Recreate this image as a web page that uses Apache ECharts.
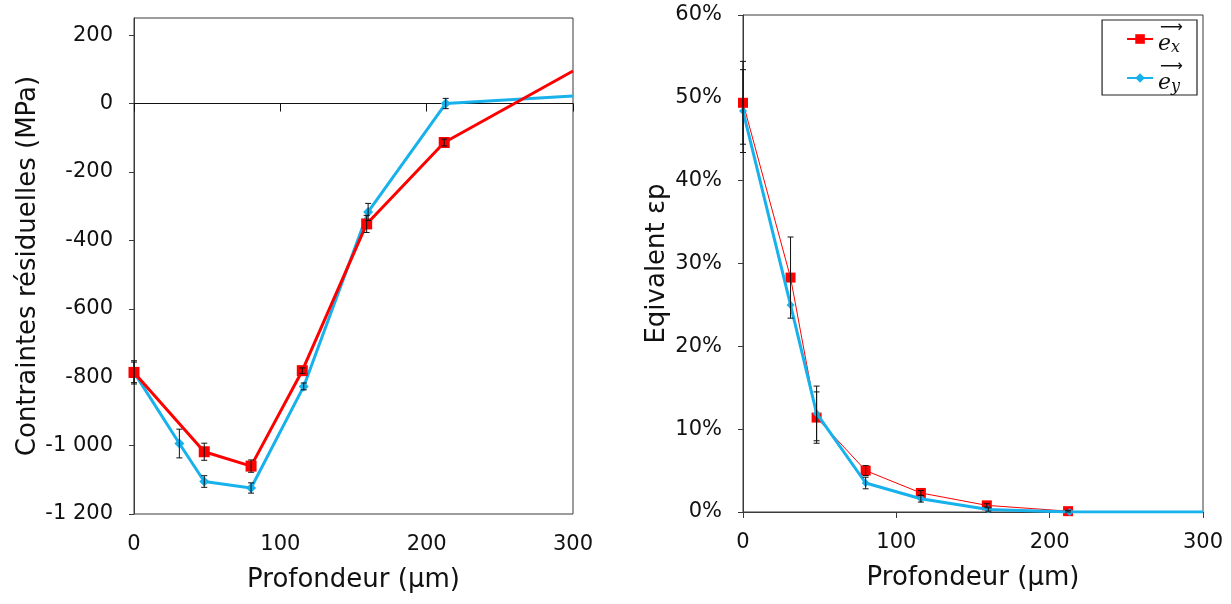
<!DOCTYPE html>
<html><head><meta charset="utf-8">
<script src="https://cdn.jsdelivr.net/npm/echarts/dist/echarts.min.js"></script>
<style>html,body{margin:0;padding:0;background:#fff}#c{width:1231px;height:604px}</style>
</head><body><div id="c"></div>
<script>
// ---- Left chart: residual stress (MPa) vs depth (µm)
const stressDepthRed = [0, 48, 80, 115, 159, 212, 300];
const stressRed      = [-786, -1018, -1060, -781, -352, -114, 95];
const stressErrRed   = [34, 25, 18, 8, 25, 10, null];
const stressDepthBlue = [0, 31, 48, 80, 116, 160, 213, 300];
const stressBlue      = [-786, -994, -1105, -1124, -827, -317, 0, 22];
const stressErrBlue   = [30, 42, 17, 15, 10, 25, 15, null];

// ---- Right chart: equivalent plastic strain (%) vs depth (µm)
const strainDepthRed = [0, 31, 48, 80, 116, 159, 212];
const strainRed      = [49.4, 28.3, 11.4, 5.0, 2.3, 0.8, 0.1];
const strainErrRed   = [5, 4.9, 3.1, 0.6, 0.3, 0.2, 0.1];
const strainDepthBlue = [0, 31, 48, 80, 116, 160, 213, 300];
const strainBlue      = [48.4, 25.0, 11.9, 3.5, 1.6, 0.3, 0, 0];
const strainErrBlue   = [5, 0, 3.3, 0.7, 0.4, 0.2, 0, null];

const seriesNames = ['ex', 'ey'];
const RED = '#ff0000', BLUE = '#17b1ec', AX = '#3a3a3a', TXT = '#111';
const FONT = 'DejaVu Sans';
const X_END = 300;

// points at the plot's right edge are line ends only (no marker)
const pts = (xs, ys) => xs.map((x, i) => (x >= X_END ? { value: [x, ys[i]], symbol: 'none' } : [x, ys[i]]));
const errPts = (xs, ys, es) => xs.map((x, i) => [x, ys[i], es[i]]).filter(d => d[2] != null && d[2] > 0);

function errRender(params, api) {
  const x = api.value(0), y = api.value(1), e = api.value(2);
  const hi = api.coord([x, y + e]), lo = api.coord([x, y - e]);
  const w = 3, st = { stroke: '#111', lineWidth: 1 };
  return { type: 'group', children: [
    { type: 'line', shape: { x1: hi[0], y1: hi[1], x2: lo[0], y2: lo[1] }, style: st },
    { type: 'line', shape: { x1: hi[0] - w, y1: hi[1], x2: hi[0] + w, y2: hi[1] }, style: st },
    { type: 'line', shape: { x1: lo[0] - w, y1: lo[1], x2: lo[0] + w, y2: lo[1] }, style: st }
  ]};
}

const tickLabel = { color: TXT, fontFamily: FONT, fontSize: 21 };
const nameStyle = { color: TXT, fontFamily: FONT, fontSize: 26 };

const chart = echarts.init(document.getElementById('c'), null, { renderer: 'canvas' });
chart.setOption({
  animation: false,
  backgroundColor: '#fff',
  grid: [
    { left: 134, top: 18, right: 658, bottom: 90, show: true, borderColor: AX, borderWidth: 1, backgroundColor: 'transparent' },
    { left: 743, top: 15, right: 28, bottom: 92, show: true, borderColor: AX, borderWidth: 1, backgroundColor: 'transparent' }
  ],
  xAxis: [
    { gridIndex: 0, type: 'value', min: 0, max: 300, interval: 100, position: 'bottom',
      axisLine: { show: false, onZero: false }, axisTick: { show: false }, splitLine: { show: false },
      axisLabel: Object.assign({ margin: 20 }, tickLabel),
      name: 'Profondeur (µm)', nameLocation: 'middle', nameGap: 53, nameTextStyle: nameStyle },
    { gridIndex: 0, type: 'value', min: 0, max: 300, interval: 100, position: 'bottom',
      axisLine: { show: true, onZero: true, lineStyle: { color: '#111', width: 1 } },
      axisTick: { show: true, length: 8, lineStyle: { color: '#111' } },
      axisLabel: { show: false }, splitLine: { show: false } },
    { gridIndex: 1, type: 'value', min: 0, max: 300, interval: 100, position: 'bottom',
      axisLine: { show: true, lineStyle: { color: AX, width: 1 } },
      axisTick: { show: true, length: 6, lineStyle: { color: AX } },
      axisLabel: Object.assign({ margin: 20 }, tickLabel), splitLine: { show: false },
      name: 'Profondeur (µm)', nameLocation: 'middle', nameGap: 53, nameTextStyle: nameStyle }
  ],
  yAxis: [
    { gridIndex: 0, type: 'value', min: -1200, max: 250, interval: 200,
      axisLine: { show: true, lineStyle: { color: AX } },
      axisTick: { show: true, length: 5, lineStyle: { color: AX } }, splitLine: { show: false },
      axisLabel: Object.assign({ margin: 21, showMaxLabel: false,
        formatter: v => { const s = String(Math.abs(v)); const t = s.length > 3 ? s.slice(0, s.length - 3) + ' ' + s.slice(-3) : s; return (v < 0 ? '-' : '') + t; } }, tickLabel),
      name: 'Contraintes résiduelles (MPa)', nameLocation: 'middle', nameGap: 90, nameTextStyle: nameStyle },
    { gridIndex: 1, type: 'value', min: 0, max: 60, interval: 10,
      axisLine: { show: true, lineStyle: { color: AX } },
      axisTick: { show: true, length: 5, lineStyle: { color: AX } }, splitLine: { show: false },
      axisLabel: Object.assign({ margin: 21, formatter: v => v + '%' }, tickLabel),
      name: 'Eqivalent εp', nameLocation: 'middle', nameGap: 73, nameTextStyle: nameStyle }
  ],
  legend: {
    data: seriesNames, orient: 'vertical', right: 34, top: 20, itemWidth: 26, itemHeight: 12, itemGap: 3,
    padding: [0, 14, 0, 24], borderColor: '#222', borderWidth: 1.2, backgroundColor: '#fff',
    selectedMode: false,
    formatter: n => '{a|⟶}\n{e|e}{s|' + (n === 'ex' ? 'x' : 'y') + '}',
    textStyle: { color: TXT, rich: {
      a: { fontFamily: FONT, fontSize: 16, lineHeight: 10, color: '#111', padding: [0, 0, 0, 2] },
      e: { fontFamily: 'DejaVu Serif', fontStyle: 'italic', fontSize: 22, lineHeight: 22, color: '#111' },
      s: { fontFamily: 'DejaVu Serif', fontStyle: 'italic', fontSize: 16, lineHeight: 22, color: '#111', padding: [8, 0, 0, 0] }
    } }
  },
  series: [
    // right chart (first so legend icons come from them)
    { name: 'ex', type: 'line', xAxisIndex: 2, yAxisIndex: 1, data: pts(strainDepthRed, strainRed),
      symbol: 'rect', symbolSize: 10, lineStyle: { color: RED, width: 1 }, itemStyle: { color: RED }, z: 2 },
    { name: 'ey', type: 'line', xAxisIndex: 2, yAxisIndex: 1, data: pts(strainDepthBlue, strainBlue),
      symbol: 'diamond', symbolSize: 8, lineStyle: { color: BLUE, width: 3 }, itemStyle: { color: BLUE }, z: 3 },
    { type: 'custom', xAxisIndex: 2, yAxisIndex: 1, renderItem: errRender, data: errPts(strainDepthRed, strainRed, strainErrRed), z: 4, silent: true },
    { type: 'custom', xAxisIndex: 2, yAxisIndex: 1, renderItem: errRender, data: errPts(strainDepthBlue, strainBlue, strainErrBlue), z: 4, silent: true },
    // left chart
    { name: 'σx', type: 'line', xAxisIndex: 0, yAxisIndex: 0, data: pts(stressDepthRed, stressRed),
      symbol: 'rect', symbolSize: 11, lineStyle: { color: RED, width: 3 }, itemStyle: { color: RED }, z: 3 },
    { name: 'σy', type: 'line', xAxisIndex: 0, yAxisIndex: 0, data: pts(stressDepthBlue, stressBlue),
      symbol: 'diamond', symbolSize: 10, lineStyle: { color: BLUE, width: 3 }, itemStyle: { color: BLUE }, z: 2 },
    { type: 'custom', xAxisIndex: 0, yAxisIndex: 0, renderItem: errRender, data: errPts(stressDepthRed, stressRed, stressErrRed), z: 4, silent: true },
    { type: 'custom', xAxisIndex: 0, yAxisIndex: 0, renderItem: errRender, data: errPts(stressDepthBlue, stressBlue, stressErrBlue), z: 4, silent: true }
  ]
});
</script>
</body></html>
